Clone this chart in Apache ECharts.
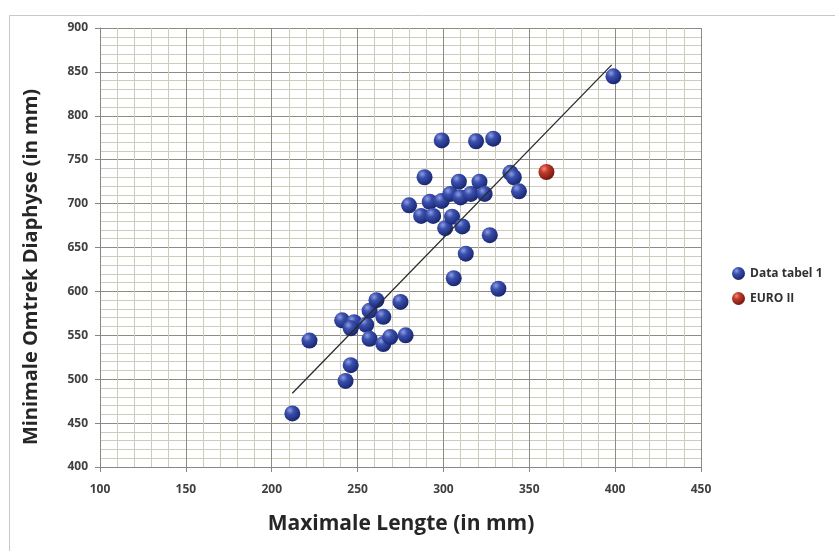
<!DOCTYPE html>
<html>
<head>
<meta charset="utf-8">
<script src="https://cdn.jsdelivr.net/npm/echarts@6/dist/echarts.min.js"></script>
<style>
html,body{margin:0;padding:0;background:#fff;}
#c{width:835px;height:551px;}
</style>
</head>
<body>
<div id="c"></div>
<script>
var xTicks = [100, 150, 200, 250, 300, 350, 400, 450];
var yTicks = [400, 450, 500, 550, 600, 650, 700, 750, 800, 850, 900];
var xTitle = 'Maximale Lengte (in mm)';
var yTitle = 'Minimale Omtrek Diaphyse (in mm)';

var dataTabel1X = [212,222,243,246,241,248,255,246,257,261,265,257,265,269,275,278,
  280,287,289,292,294,299,299,301,305,304,306,309,310,311,313,316,319,321,324,327,329,332,339,341,344,399];
var dataTabel1Y = [461,544,498,516,567,565,562,558,578,590,571,546,540,548,588,550,
  698,686,730,702,686,703,772,672,685,711,615,725,707,674,643,711,771,725,711,664,774,603,735,730,714,845];

var euroX = [360];
var euroY = [736];

var trendX = [212, 398];
var trendY = [484, 858];

function zip(a, b) { return a.map(function (v, i) { return [v, b[i]]; }); }

var blueBall = new echarts.graphic.RadialGradient(0.35, 0.3, 0.75, [
  {offset: 0, color: '#8e9ee0'},
  {offset: 0.35, color: '#3a4fae'},
  {offset: 1, color: '#16236a'}
]);
var redBall = new echarts.graphic.RadialGradient(0.35, 0.3, 0.75, [
  {offset: 0, color: '#f08a70'},
  {offset: 0.35, color: '#c0392b'},
  {offset: 1, color: '#6e150c'}
]);

var chart = echarts.init(document.getElementById('c'), null, {renderer: 'canvas'});
var tickFont = {fontFamily: 'Open Sans', fontWeight: 'bold', fontSize: 12, color: '#404040'};
chart.setOption({
  animation: false,
  backgroundColor: '#fff',
  graphic: [{
    type: 'rect', left: 7, top: 13, z: -10,
    shape: {width: 826, height: 536},
    style: {fill: 'none', stroke: '#c8c8c8', lineWidth: 1}
  }, {
    type: 'text', x: 401, y: 524, z: 10,
    style: {text: xTitle, align: 'center', verticalAlign: 'middle',
      fontFamily: 'Open Sans', fontWeight: 'bold', fontSize: 21, fill: '#262626'}
  }, {
    type: 'text', x: 31, y: 267, rotation: Math.PI / 2, z: 10,
    style: {text: yTitle, align: 'center', verticalAlign: 'middle',
      fontFamily: 'Open Sans', fontWeight: 'bold', fontSize: 20, fill: '#262626'}
  }],
  grid: {left: 100, top: 28, width: 601, height: 439},
  legend: {
    orient: 'vertical', left: 727, top: 262, itemGap: 12,
    itemWidth: 13, itemHeight: 13,
    textStyle: {fontFamily: 'Open Sans', fontWeight: 'bold', fontSize: 12, color: '#303030'},
    data: [{name: 'Data tabel 1', icon: 'circle'}, {name: 'EURO II', icon: 'circle'}]
  },
  xAxis: {
    type: 'value', min: xTicks[0], max: xTicks[xTicks.length - 1], interval: 50,
    axisLine: {show: true, lineStyle: {color: '#868686'}},
    axisTick: {show: true, length: 5, lineStyle: {color: '#868686'}},
    axisLabel: Object.assign({margin: 17}, tickFont),
    splitLine: {show: true, lineStyle: {color: '#8e8c80', width: 1}},
    minorTick: {show: true, splitNumber: 5, length: 0},
    minorSplitLine: {show: true, lineStyle: {color: '#cdcbbb', width: 1}}
  },
  yAxis: {
    type: 'value', min: yTicks[0], max: yTicks[yTicks.length - 1], interval: 50,
    axisLine: {show: true, lineStyle: {color: '#868686'}},
    axisTick: {show: true, length: 5, lineStyle: {color: '#868686'}},
    axisLabel: Object.assign({margin: 12}, tickFont),
    splitLine: {show: true, lineStyle: {color: '#8e8c80', width: 1}},
    minorTick: {show: true, splitNumber: 5, length: 0},
    minorSplitLine: {show: true, lineStyle: {color: '#cdcbbb', width: 1}}
  },
  series: [
    {
      name: 'trend', type: 'line', data: zip(trendX, trendY), showSymbol: false,
      lineStyle: {color: '#2a2a2a', width: 1.3}, z: 3, silent: true
    },
    {
      name: 'Data tabel 1', type: 'scatter', data: zip(dataTabel1X, dataTabel1Y),
      symbolSize: 16, itemStyle: {color: blueBall, opacity: 1}, z: 2
    },
    {
      name: 'EURO II', type: 'scatter', data: zip(euroX, euroY),
      symbolSize: 16, itemStyle: {color: redBall, opacity: 1}, z: 2
    }
  ]
});
</script>
</body>
</html>
